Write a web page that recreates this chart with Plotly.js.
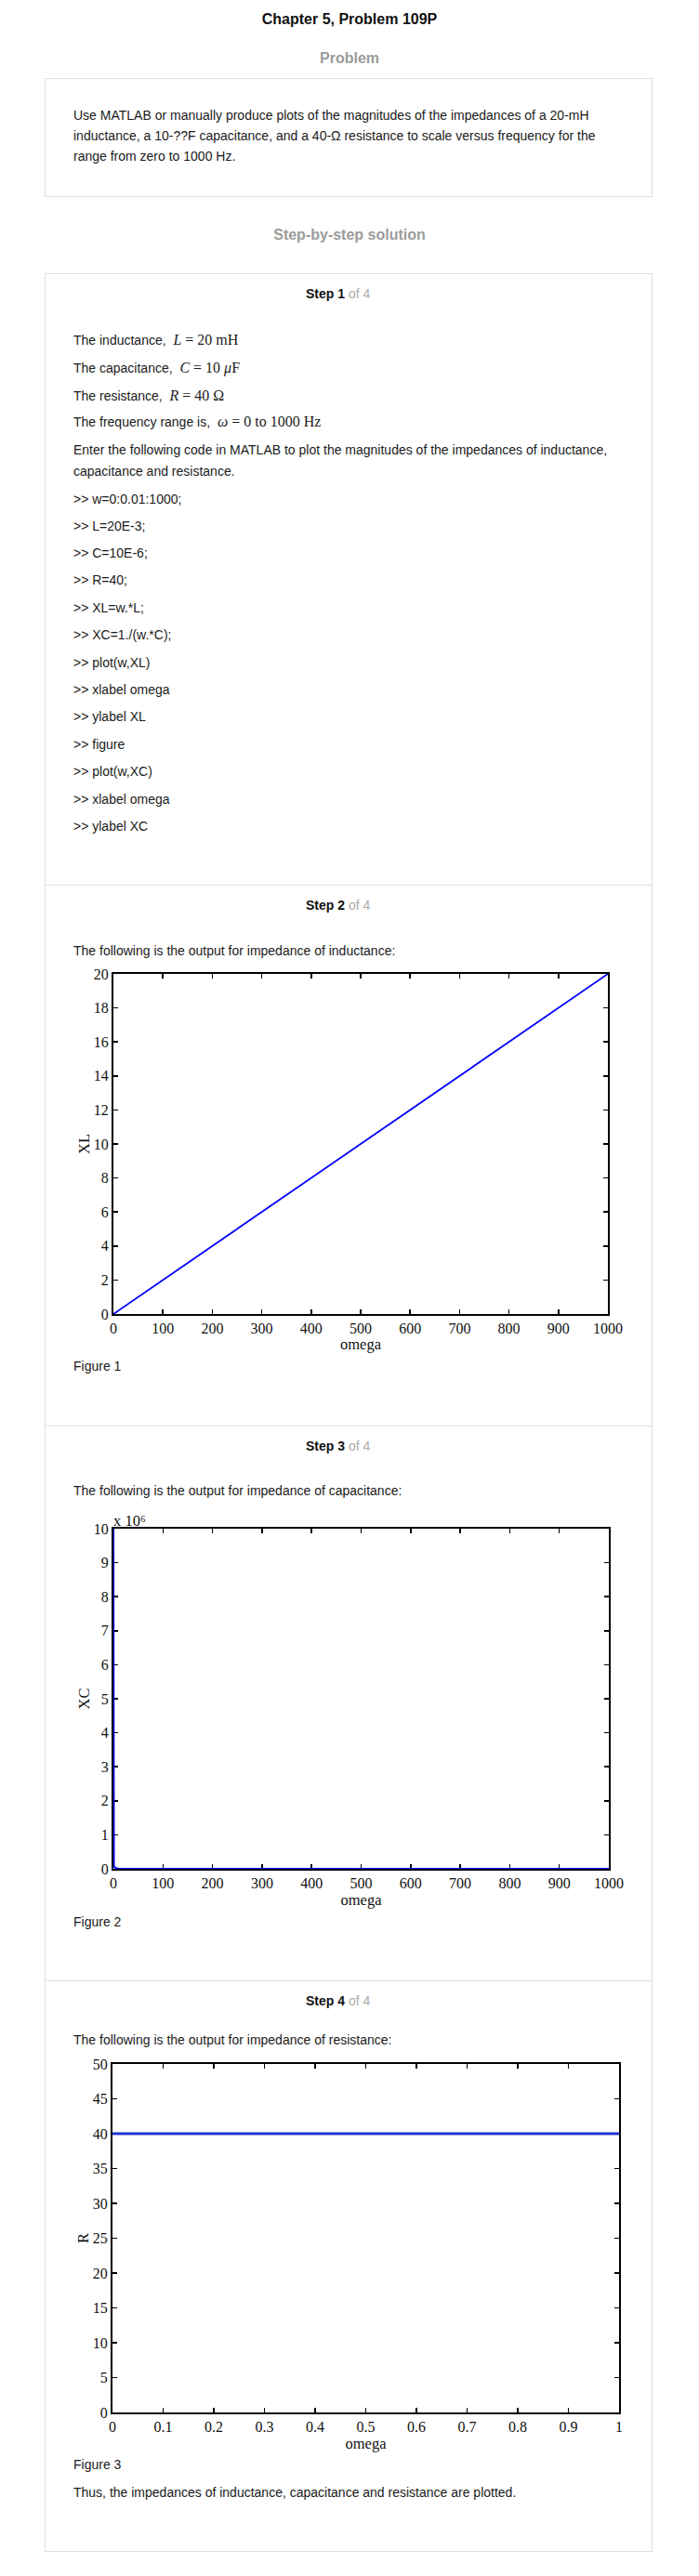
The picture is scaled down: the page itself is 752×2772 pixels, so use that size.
<!DOCTYPE html>
<html>
<head>
<meta charset="utf-8">
<script src="https://cdn.plot.ly/plotly-3.0.1.min.js"></script>
<style>
  html, body { margin: 0; padding: 0; background: #fff; }
  body { width: 752px; height: 2772px; position: relative; overflow: hidden;
         font-family: "Liberation Sans", Arial, sans-serif; color: #1a1a1a; }
  .c { position: absolute; left: 0; width: 752px; text-align: center; white-space: nowrap; }
  .h1 { font: bold 16px/22px "Liberation Sans", Arial, sans-serif; color: #111; }
  .h2 { font: bold 16px/22px "Liberation Sans", Arial, sans-serif; color: #9b9b9b; }
  .t { position: absolute; left: 79px; font: 14px/20px "Liberation Sans", Arial, sans-serif; white-space: nowrap; color: #1a1a1a; }
  .step { position: absolute; left: 329px; font: 14px/20px "Liberation Sans", Arial, sans-serif; white-space: nowrap; }
  .step b { color: #111; }
  .step span { color: #aaa; }
  .m { font-family: "Liberation Serif", "Times New Roman", serif; font-size: 16px; }
  .box { position: absolute; border: 1px solid #dedede; box-sizing: border-box; }
  .div { position: absolute; left: 49px; width: 652px; height: 1px; background: #e2e2e2; }
  .plot { position: absolute; left: 60px; width: 640px; }
</style>
</head>
<body>
<div class="c h1" style="top:10px">Chapter 5, Problem 109P</div>
<div class="c h2" style="top:52px">Problem</div>
<div class="box" style="left:48px; top:84px; width:654px; height:128px;"></div>
<div class="t" style="top:113px; line-height:22px;">Use MATLAB or manually produce plots of the magnitudes of the impedances of a 20-mH<br>inductance, a 10-??F capacitance, and a 40-Ω resistance to scale versus frequency for the<br>range from zero to 1000 Hz.</div>
<div class="c h2" style="top:242px">Step-by-step solution</div>

<div class="box" style="left:48px; top:294px; width:654px; height:2452px;"></div>
<div class="div" style="top:952px"></div>
<div class="div" style="top:1534px"></div>
<div class="div" style="top:2131px"></div>

<div class="step" style="top:306px"><b>Step 1</b> <span>of 4</span></div>
<div class="t" style="top:356px">The inductance,&nbsp; <span class="m"><i>L</i> = 20 mH</span></div>
<div class="t" style="top:386px">The capacitance,&nbsp; <span class="m"><i>C</i> = 10 <i>μ</i>F</span></div>
<div class="t" style="top:416px">The resistance,&nbsp; <span class="m"><i>R</i> = 40 Ω</span></div>
<div class="t" style="top:444px">The frequency range is,&nbsp; <span class="m"><i>ω</i> = 0 to 1000 Hz</span></div>
<div class="t" style="top:474px">Enter the following code in MATLAB to plot the magnitudes of the impedances of inductance,</div>
<div class="t" style="top:497px">capacitance and resistance.</div>
<div class="t" style="top:527px">&gt;&gt; w=0:0.01:1000;</div>
<div class="t" style="top:556px">&gt;&gt; L=20E-3;</div>
<div class="t" style="top:585px">&gt;&gt; C=10E-6;</div>
<div class="t" style="top:614px">&gt;&gt; R=40;</div>
<div class="t" style="top:644px">&gt;&gt; XL=w.*L;</div>
<div class="t" style="top:673px">&gt;&gt; XC=1./(w.*C);</div>
<div class="t" style="top:703px">&gt;&gt; plot(w,XL)</div>
<div class="t" style="top:732px">&gt;&gt; xlabel omega</div>
<div class="t" style="top:761px">&gt;&gt; ylabel XL</div>
<div class="t" style="top:791px">&gt;&gt; figure</div>
<div class="t" style="top:820px">&gt;&gt; plot(w,XC)</div>
<div class="t" style="top:850px">&gt;&gt; xlabel omega</div>
<div class="t" style="top:879px">&gt;&gt; ylabel XC</div>

<div class="step" style="top:964px"><b>Step 2</b> <span>of 4</span></div>
<div class="t" style="top:1013px">The following is the output for impedance of inductance:</div>
<div id="p1" class="plot" style="top:1036px; height:420px;"></div>
<div class="t" style="top:1460px">Figure 1</div>

<div class="step" style="top:1546px"><b>Step 3</b> <span>of 4</span></div>
<div class="t" style="top:1594px">The following is the output for impedance of capacitance:</div>
<div id="p2" class="plot" style="top:1620px; height:435px;"></div>
<div class="t" style="top:2058px">Figure 2</div>

<div class="step" style="top:2143px"><b>Step 4</b> <span>of 4</span></div>
<div class="t" style="top:2185px">The following is the output for impedance of resistance:</div>
<div id="p3" class="plot" style="top:2208px; height:432px;"></div>
<div class="t" style="top:2642px">Figure 3</div>
<div class="t" style="top:2672px">Thus, the impedances of inductance, capacitance and resistance are plotted.</div>

<script>
// ---- data ----
const omegaL = [0, 100, 200, 300, 400, 500, 600, 700, 800, 900, 1000];
const XL = [0, 2, 4, 6, 8, 10, 12, 14, 16, 18, 20];

const omegaC = [0.01, 0.02, 0.05, 0.1, 0.2, 0.5, 1, 2, 5, 10, 100, 1000];
const XC = [10000000, 5000000, 2000000, 1000000, 500000, 200000, 100000, 50000, 20000, 10000, 1000, 100];

const omegaR = [0, 1];
const Rvals = [40, 40];

const freqTicks = [0, 100, 200, 300, 400, 500, 600, 700, 800, 900, 1000];
const xlTicks = [0, 2, 4, 6, 8, 10, 12, 14, 16, 18, 20];
const xcTicks = [0, 1000000, 2000000, 3000000, 4000000, 5000000, 6000000, 7000000, 8000000, 9000000, 10000000];
const xcTickText = ['0', '1', '2', '3', '4', '5', '6', '7', '8', '9', '10'];
const xcExponentLabel = 'x 10⁶';
const rXTicks = [0, 0.1, 0.2, 0.3, 0.4, 0.5, 0.6, 0.7, 0.8, 0.9, 1];
const rXTickText = ['0', '0.1', '0.2', '0.3', '0.4', '0.5', '0.6', '0.7', '0.8', '0.9', '1'];
const rYTicks = [0, 5, 10, 15, 20, 25, 30, 35, 40, 45, 50];

const SERIF = '"Liberation Serif", "Times New Roman", Times, serif';

function axis(extra) {
  return Object.assign({
    showline: true, linecolor: '#000', linewidth: 2, mirror: 'ticks',
    ticks: 'inside', ticklen: 5, tickwidth: 1.5, tickcolor: '#000',
    showgrid: false, zeroline: false, fixedrange: true,
    tickfont: { family: SERIF, size: 16, color: '#111' },
    layer: 'below traces'
  }, extra);
}
function xTitle(t) { return { text: t, font: { family: SERIF, size: 16.5, color: '#111' }, standoff: 1 }; }
function yTitle(t) { return { text: t, font: { family: SERIF, size: 16.5, color: '#111' }, standoff: 0 }; }

const cfg = { staticPlot: true, displayModeBar: false };

Plotly.newPlot('p1', [{
  x: omegaL, y: XL, type: 'scatter', mode: 'lines',
  line: { color: '#0000ff', width: 1.8 }
}], {
  width: 640, height: 420,
  margin: { l: 62, r: 46, t: 12, b: 42 },
  paper_bgcolor: 'rgba(0,0,0,0)', plot_bgcolor: '#fff', showlegend: false,
  xaxis: axis({ range: [0, 1000], tickvals: freqTicks, title: xTitle('omega') }),
  yaxis: axis({ range: [0, 20], tickvals: xlTicks, title: yTitle('XL') })
}, cfg);

Plotly.newPlot('p2', [{
  x: omegaC, y: XC, type: 'scatter', mode: 'lines',
  line: { color: '#0000ff', width: 2 }
}], {
  width: 640, height: 435,
  margin: { l: 62, r: 45, t: 25, b: 44 },
  paper_bgcolor: 'rgba(0,0,0,0)', plot_bgcolor: '#fff', showlegend: false,
  xaxis: axis({ range: [0, 1000], tickvals: freqTicks, title: xTitle('omega') }),
  yaxis: axis({ range: [0, 10000000], tickvals: xcTicks, ticktext: xcTickText, title: yTitle('XC') }),
  annotations: [{
    xref: 'paper', yref: 'paper', x: 0, y: 1, xanchor: 'left', yanchor: 'bottom',
    text: xcExponentLabel, showarrow: false, yshift: -3, xshift: -2,
    font: { family: SERIF, size: 16.5, color: '#111' }
  }]
}, cfg);

Plotly.newPlot('p3', [{
  x: omegaR, y: Rvals, type: 'scatter', mode: 'lines',
  line: { color: '#1f35d2', width: 3 }
}], {
  width: 640, height: 432,
  margin: { l: 61, r: 34, t: 13, b: 44 },
  paper_bgcolor: 'rgba(0,0,0,0)', plot_bgcolor: '#fff', showlegend: false,
  xaxis: axis({ range: [0, 1], tickvals: rXTicks, ticktext: rXTickText, title: xTitle('omega') }),
  yaxis: axis({ range: [0, 50], tickvals: rYTicks, title: yTitle('R') })
}, cfg);
</script>
</body>
</html>
